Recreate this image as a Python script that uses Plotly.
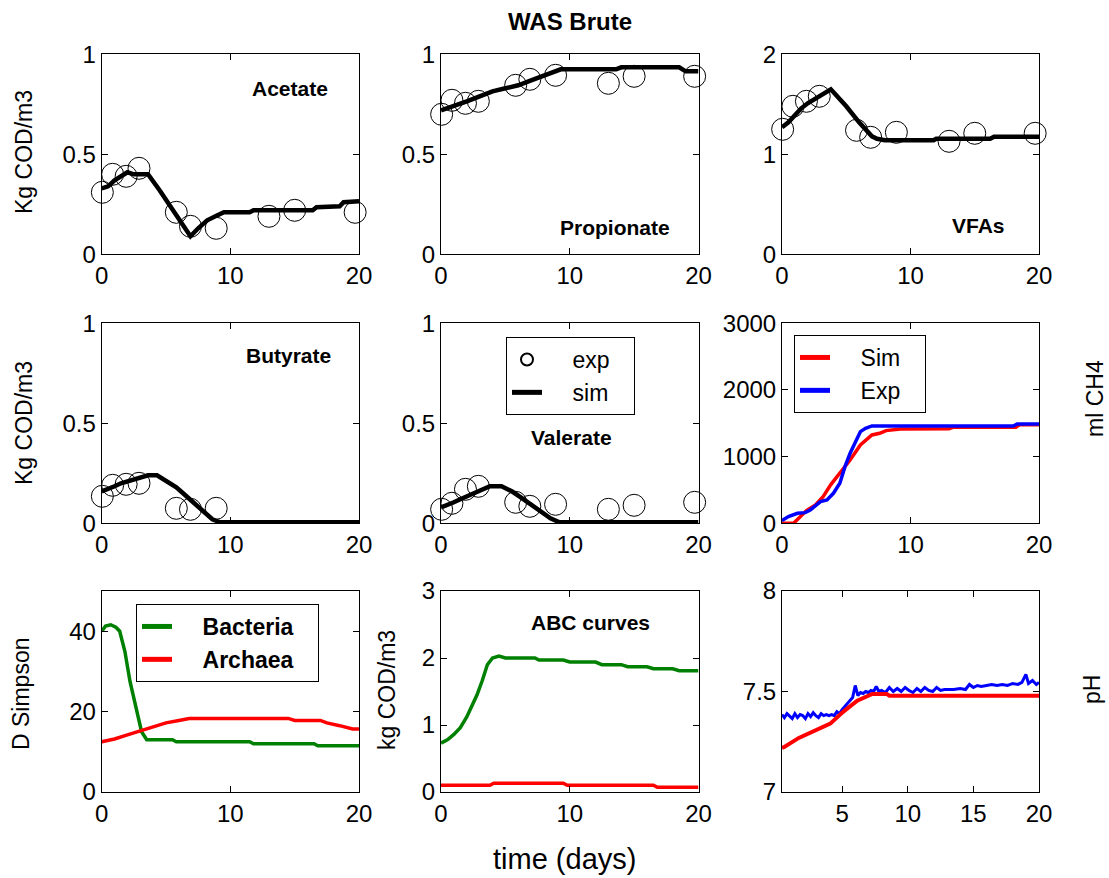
import plotly.graph_objects as go

W, H = 1109, 878

# ---------------- data ----------------
t_exp = [0.05, 0.85, 1.9, 2.9, 5.8, 6.9, 8.9, 13.0, 15.0, 19.7]

acetate_exp = [0.31, 0.40, 0.39, 0.43, 0.21, 0.14, 0.13, 0.19, 0.22, 0.21]
propionate_exp = [0.70, 0.77, 0.755, 0.765, 0.845, 0.875, 0.895, 0.855, 0.89, 0.89]
vfa_exp = [1.25, 1.48, 1.53, 1.58, 1.24, 1.17, 1.22, 1.13, 1.21, 1.21]
butyrate_exp = [0.135, 0.19, 0.195, 0.20, 0.075, 0.07, 0.075, -0.015, -0.015, -0.01]
valerate_exp = [0.07, 0.10, 0.17, 0.185, 0.105, 0.085, 0.095, 0.07, 0.09, 0.105]

acetate_t = [0, 0.5, 1, 1.5, 2, 2.5, 3.6, 4.5, 5.5, 6.3, 6.9, 7.5, 8.2, 9.0, 9.5, 11.5, 11.8, 16.4, 16.7, 18.5, 18.8, 20]
acetate_sim = [0.33, 0.34, 0.37, 0.39, 0.41, 0.40, 0.40, 0.32, 0.22, 0.14, 0.09, 0.13, 0.17, 0.195, 0.21, 0.21, 0.22, 0.22, 0.235, 0.24, 0.26, 0.265]

propionate_t = [0, 1, 2, 3, 4, 5, 6, 7, 8, 8.8, 9.3, 13.6, 14.0, 18.5, 19.0, 20]
propionate_sim = [0.72, 0.74, 0.765, 0.79, 0.815, 0.83, 0.845, 0.87, 0.895, 0.915, 0.925, 0.925, 0.935, 0.935, 0.915, 0.915]

vfa_t = [0, 0.5, 1, 1.5, 2, 2.5, 3, 3.8, 5, 6, 7, 7.4, 8, 11.8, 12.0, 16.2, 16.5, 20]
vfa_sim = [1.27, 1.32, 1.39, 1.46, 1.51, 1.55, 1.58, 1.65, 1.48, 1.32, 1.18, 1.155, 1.14, 1.14, 1.155, 1.155, 1.175, 1.175]

butyrate_t = [0, 0.5, 1, 1.5, 2, 2.5, 3, 3.6, 4.3, 5, 5.8, 6.5, 7.2, 8, 8.6, 9.2, 20]
butyrate_sim = [0.16, 0.17, 0.185, 0.2, 0.21, 0.22, 0.23, 0.24, 0.24, 0.215, 0.18, 0.14, 0.10, 0.05, 0.02, 0.005, 0.005]

valerate_t = [0, 0.5, 1, 1.5, 2, 2.5, 3, 3.8, 4.7, 5.5, 6.2, 7, 7.8, 8.5, 9.2, 20]
valerate_sim = [0.08, 0.09, 0.105, 0.12, 0.135, 0.15, 0.165, 0.185, 0.185, 0.16, 0.13, 0.095, 0.055, 0.025, 0.005, 0.005]

ch4_sim_t = [0, 0.9, 1.3, 1.9, 2.6, 3.2, 3.8, 4.5, 5.3, 6.1, 7.0, 7.6, 8.1, 9.2, 13.0, 13.3, 18.2, 18.5, 20]
ch4_sim = [0, 0, 75, 190, 275, 400, 580, 750, 950, 1175, 1325, 1350, 1390, 1415, 1420, 1440, 1440, 1480, 1480]
ch4_exp_t = [0, 0.25, 0.5, 1.2, 1.8, 2.2, 3.0, 3.5, 4.0, 4.5, 4.9, 5.3, 5.7, 6.1, 6.5, 7.0, 18.0, 18.3, 20]
ch4_exp = [40, 75, 100, 150, 160, 200, 325, 350, 450, 600, 850, 1050, 1225, 1375, 1425, 1460, 1460, 1490, 1490]

bact_t = [0, 0.3, 0.7, 1.1, 1.4, 1.8, 2.2, 2.7, 3.1, 3.5, 5.5, 5.8, 11.5, 11.8, 16.5, 16.8, 20]
bacteria = [40, 41.3, 41.6, 41, 40, 35, 27.5, 20, 15, 13, 13, 12.5, 12.5, 12, 12, 11.5, 11.5]
arch_t = [0, 1, 2, 3, 4, 5, 6, 6.8, 14.5, 15, 17, 17.5, 18.5, 19.5, 20]
archaea = [12.5, 13.2, 14.2, 15.2, 16.3, 17.2, 17.8, 18.3, 18.3, 17.8, 17.8, 17.2, 16.5, 15.7, 15.7]

abc_b_t = [0, 0.5, 1, 1.5, 2, 2.4, 2.8, 3.2, 3.6, 4.0, 4.5, 5.0, 7.3, 7.6, 9.5, 10.0, 12, 12.5, 14, 14.5, 16, 16.5, 18, 18.5, 20]
abc_bact = [0.73, 0.78, 0.86, 0.96, 1.12, 1.28, 1.45, 1.66, 1.9, 2.0, 2.03, 2.0, 2.0, 1.97, 1.97, 1.94, 1.94, 1.9, 1.9, 1.87, 1.87, 1.84, 1.84, 1.81, 1.81]
abc_a_t = [0, 3.8, 4.1, 9.5, 9.8, 16.5, 16.8, 20]
abc_arch = [0.1, 0.1, 0.13, 0.13, 0.1, 0.1, 0.07, 0.07]

ph_sim_t = [0.42, 0.6, 1.7, 3.0, 4.1, 5.1, 6.15, 7.3, 8.4, 8.6, 20]
ph_sim = [7.22, 7.224, 7.269, 7.307, 7.34, 7.40, 7.454, 7.488, 7.488, 7.479, 7.479]

ph_exp_t = [0.42, 0.6, 0.8, 1.0, 1.2, 1.4, 1.6, 1.8, 2.0, 2.2, 2.4, 2.6, 2.8, 3.0, 3.2, 3.4, 3.6, 3.8, 4.0, 4.2,
            4.4, 4.6, 4.8, 5.0, 5.2, 5.4, 5.6, 5.8, 6.0, 6.2, 6.4, 6.6, 6.8, 7.0, 7.2, 7.4, 7.6, 7.8, 8.0, 8.3,
            8.6, 8.9, 9.2, 9.5, 9.8, 10.1, 10.4, 10.7, 11.0, 11.3, 11.6, 11.9, 12.2, 12.5, 12.8, 13.1, 13.5, 14.0,
            14.4, 14.7, 15.0, 15.3, 15.6, 16.0, 16.4, 16.8, 17.2, 17.6, 18.0, 18.4, 18.7, 19.0, 19.2, 19.5, 19.8, 20.0]
ph_exp = [7.385, 7.37, 7.39, 7.375, 7.365, 7.39, 7.37, 7.385, 7.38, 7.365, 7.39, 7.375, 7.395, 7.38, 7.37, 7.39,
          7.38, 7.385, 7.38, 7.385, 7.38, 7.40, 7.39, 7.41, 7.425, 7.44, 7.455, 7.47, 7.53, 7.48, 7.495, 7.49,
          7.50, 7.495, 7.505, 7.50, 7.525, 7.50, 7.505, 7.495, 7.52, 7.50, 7.515, 7.50, 7.52, 7.505, 7.495, 7.515,
          7.50, 7.52, 7.505, 7.50, 7.52, 7.505, 7.51, 7.51, 7.51, 7.515, 7.51, 7.535, 7.52, 7.53, 7.525, 7.53,
          7.535, 7.53, 7.535, 7.53, 7.54, 7.535, 7.545, 7.585, 7.54, 7.555, 7.535, 7.545]

# ---------------- layout helpers ----------------
FONT = "Liberation Sans, Arial, sans-serif"
GREEN = "#008000"
RED = "#ff0000"
BLUE = "#0000ff"
SP = "\u00a0"

cols = [(101.7, 359.0), (441.0, 698.5), (782.0, 1039.0)]
rows = [(54.3, 254.3), (323.3, 523.3), (591.0, 792.0)]


def xdom(c):
    a, b = cols[c]
    return [a / W, b / W]


def ydom(r):
    t, b = rows[r]
    return [1 - b / H, 1 - t / H]


def lname(s, bold=False):
    body = "<b>%s</b>" % s if bold else s
    return SP * 4 + body + SP * 3


fig = go.Figure()

axis_common = dict(showline=True, linecolor="black", linewidth=1, mirror="allticks",
                   ticks="inside", ticklen=6, tickwidth=1, tickcolor="black",
                   showgrid=False, zeroline=False,
                   tickfont=dict(family=FONT, size=24, color="black"))

panels = [
    # (row, col, yrange, yticks, xrange, xticks)
    (0, 0, [0, 1], [0, 0.5, 1], [0, 20], [0, 10, 20]),
    (0, 1, [0, 1], [0, 0.5, 1], [0, 20], [0, 10, 20]),
    (0, 2, [0, 2], [0, 1, 2], [0, 20], [0, 10, 20]),
    (1, 0, [0, 1], [0, 0.5, 1], [0, 20], [0, 10, 20]),
    (1, 1, [0, 1], [0, 0.5, 1], [0, 20], [0, 10, 20]),
    (1, 2, [0, 3000], [0, 1000, 2000, 3000], [0, 20], [0, 10, 20]),
    (2, 0, [0, 50], [0, 20, 40], [0, 20], [0, 10, 20]),
    (2, 1, [0, 3], [0, 1, 2, 3], [0, 20], [0, 10, 20]),
    (2, 2, [7, 8], [7, 7.5, 8], [0.42, 20], [5, 10, 15, 20]),
]

layout_axes = {}
for i, (r, c, yr, yt, xr, xt) in enumerate(panels):
    n = "" if i == 0 else str(i + 1)
    layout_axes["xaxis" + n] = dict(axis_common, domain=xdom(c), range=xr, tickvals=xt,
                                    anchor="y" + n, automargin=False)
    layout_axes["yaxis" + n] = dict(axis_common, domain=ydom(r), range=yr, tickvals=yt,
                                    anchor="x" + n, automargin=False)


def ax(i):
    n = "" if i == 0 else str(i + 1)
    return "x" + n, "y" + n


def add_exp_sim(i, te, ye, ts, ys, legend=False):
    xa, ya = ax(i)
    fig.add_trace(go.Scatter(x=ts, y=ys, mode="lines", xaxis=xa, yaxis=ya,
                             line=dict(color="black", width=4.5), name="sim",
                             showlegend=False, legend="legend"))
    fig.add_trace(go.Scatter(x=te, y=ye, mode="markers", xaxis=xa, yaxis=ya,
                             marker=dict(symbol="circle-open", size=22, color="black",
                                         line=dict(width=1, color="black")),
                             cliponaxis=False, name=lname("exp"), showlegend=legend,
                             legend="legend", legendrank=1))
    if legend:
        fig.add_trace(go.Scatter(x=[None], y=[None], mode="lines", xaxis=xa, yaxis=ya,
                                 line=dict(color="black", width=4.5), name=lname("sim"),
                                 showlegend=True, legend="legend", legendrank=2))


add_exp_sim(0, t_exp, acetate_exp, acetate_t, acetate_sim)
add_exp_sim(1, t_exp, propionate_exp, propionate_t, propionate_sim)
add_exp_sim(2, t_exp, vfa_exp, vfa_t, vfa_sim)
add_exp_sim(3, t_exp, butyrate_exp, butyrate_t, butyrate_sim)
add_exp_sim(4, t_exp, valerate_exp, valerate_t, valerate_sim, legend=True)

# CH4
xa, ya = ax(5)
fig.add_trace(go.Scatter(x=ch4_sim_t, y=ch4_sim, mode="lines", xaxis=xa, yaxis=ya,
                         line=dict(color=RED, width=3.5), name=lname("Sim"), legend="legend2"))
fig.add_trace(go.Scatter(x=ch4_exp_t, y=ch4_exp, mode="lines", xaxis=xa, yaxis=ya,
                         line=dict(color=BLUE, width=3.5), name=lname("Exp"), legend="legend2"))

# D Simpson
xa, ya = ax(6)
fig.add_trace(go.Scatter(x=bact_t, y=bacteria, mode="lines", xaxis=xa, yaxis=ya,
                         line=dict(color=GREEN, width=3.5), name=lname("Bacteria", True),
                         legend="legend3"))
fig.add_trace(go.Scatter(x=arch_t, y=archaea, mode="lines", xaxis=xa, yaxis=ya,
                         line=dict(color=RED, width=3.5), name=lname("Archaea", True),
                         legend="legend3"))

# ABC curves
xa, ya = ax(7)
fig.add_trace(go.Scatter(x=abc_b_t, y=abc_bact, mode="lines", xaxis=xa, yaxis=ya,
                         line=dict(color=GREEN, width=3.5), showlegend=False))
fig.add_trace(go.Scatter(x=abc_a_t, y=abc_arch, mode="lines", xaxis=xa, yaxis=ya,
                         line=dict(color=RED, width=3.5), showlegend=False))

# pH
xa, ya = ax(8)
fig.add_trace(go.Scatter(x=ph_exp_t, y=ph_exp, mode="lines", xaxis=xa, yaxis=ya,
                         line=dict(color=BLUE, width=3), showlegend=False))
fig.add_trace(go.Scatter(x=ph_sim_t, y=ph_sim, mode="lines", xaxis=xa, yaxis=ya,
                         line=dict(color=RED, width=4), showlegend=False))


def ann(text, px, py, size, bold=False, angle=0):
    return dict(text=("<b>%s</b>" % text) if bold else text, x=px / W, y=1 - py / H,
                xref="paper", yref="paper", showarrow=False, textangle=angle,
                xanchor="center", yanchor="middle",
                font=dict(family=FONT, size=size, color="black"))


annotations = [
    ann("WAS Brute", 570, 21, 24, bold=True),
    ann("Acetate", 290, 88, 21, bold=True),
    ann("Propionate", 615, 228, 21, bold=True),
    ann("VFAs", 978, 225, 21, bold=True),
    ann("Butyrate", 288, 355, 21, bold=True),
    ann("Valerate", 571, 437, 21, bold=True),
    ann("ABC curves", 590, 622, 21, bold=True),
    ann("Kg COD/m3", 24, 152, 23, angle=-90),
    ann("Kg COD/m3", 24, 423, 23, angle=-90),
    ann("D Simpson", 21, 694, 23, angle=-90),
    ann("kg COD/m3", 387, 690, 23, angle=-90),
    ann("ml CH4", 1095, 399, 23, angle=-90),
    ann("pH", 1092, 690, 23, angle=-90),
    ann("time (days)", 564, 859, 29),
]

legend_common = dict(bordercolor="black", borderwidth=1, bgcolor="white",
                     xanchor="left", yanchor="top", xref="paper", yref="paper",
                     font=dict(family=FONT, size=23, color="black"),
                     tracegroupgap=0, itemsizing="constant")

fig.update_layout(
    width=W, height=H, autosize=False,
    margin=dict(l=0, r=0, t=0, b=0, pad=0),
    paper_bgcolor="white", plot_bgcolor="white",
    font=dict(family=FONT, color="black"),
    annotations=annotations,
    legend=dict(legend_common, x=506 / W, y=1 - 337 / H),
    legend2=dict(legend_common, x=794 / W, y=1 - 335 / H),
    legend3=dict(legend_common, x=136 / W, y=1 - 604 / H),
    **layout_axes,
)

fig.write_html("out.html",
               post_script="document.body.style.margin='0px';document.body.style.overflow='hidden';")
